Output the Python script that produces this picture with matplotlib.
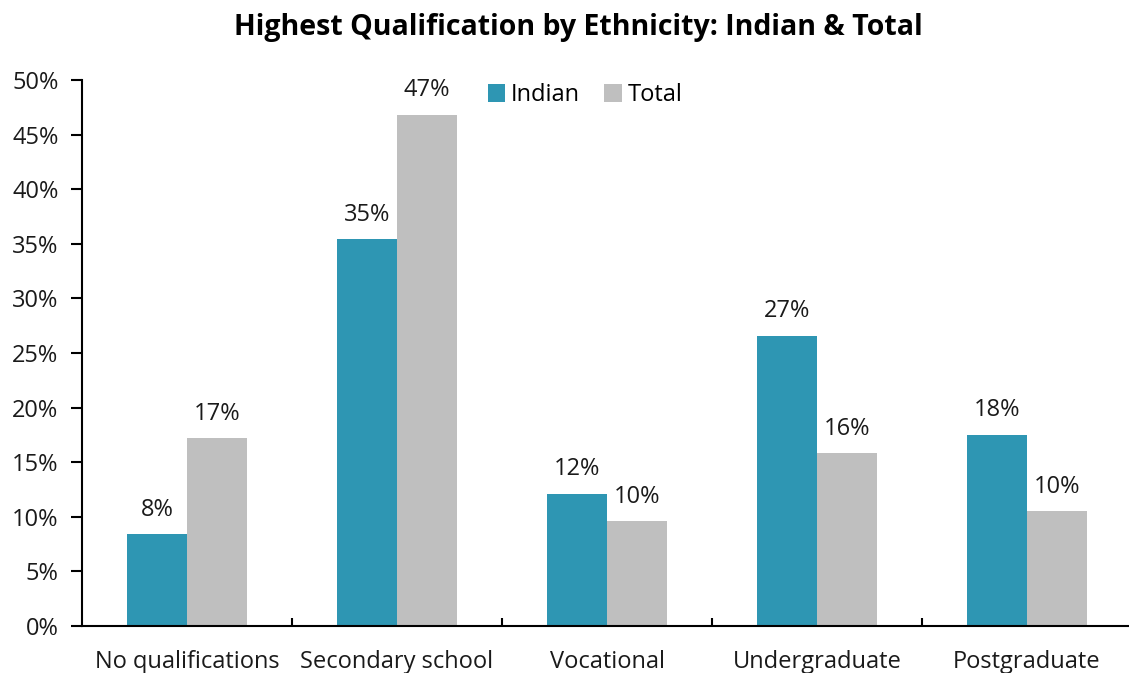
import matplotlib
matplotlib.use("Agg")
import matplotlib.pyplot as plt
import numpy as np
from matplotlib.ticker import FuncFormatter, MultipleLocator

plt.rcParams['font.family'] = ['Open Sans', 'DejaVu Sans']

categories = ["No qualifications", "Secondary school", "Vocational", "Undergraduate", "Postgraduate"]
indian = [8.4, 35.4, 12.1, 26.6, 17.5]
total = [17.2, 46.8, 9.6, 15.8, 10.5]
indian_labels = ["8%", "35%", "12%", "27%", "18%"]
total_labels = ["17%", "47%", "10%", "16%", "10%"]

fig = plt.figure(figsize=(11.29, 6.73), dpi=100)
ax = fig.add_axes([82/1129, 1-626/673, 1050/1129, (626-80)/673])

x = np.arange(len(categories))
w = 0.287
b1 = ax.bar(x - w/2, indian, w, color="#2E96B3", label="Indian")
b2 = ax.bar(x + w/2, total, w, color="#BFBFBF", label="Total")

for bars, labs in ((b1, indian_labels), (b2, total_labels)):
    for bar, lab in zip(bars, labs):
        ax.annotate(lab, (bar.get_x() + bar.get_width()/2, bar.get_height()),
                    xytext=(0, 9), textcoords="offset points", ha="center", va="bottom",
                    fontsize=17, color="#1a1a1a")

ax.set_xlim(-0.5, len(categories) - 0.5)
ax.set_ylim(0, 50)
ax.yaxis.set_major_locator(MultipleLocator(5))
ax.yaxis.set_major_formatter(FuncFormatter(lambda v, p: f"{v:.0f}%"))
ax.set_xticks(x)
ax.set_xticklabels(categories)
ax.set_xticks(np.arange(0.5, len(categories) - 0.5, 1), minor=True)
ax.tick_params(axis="x", which="major", length=0, pad=17.5, labelsize=17, labelcolor="#1a1a1a")
ax.tick_params(axis="x", which="minor", length=6, width=1.5, direction="in")
ax.tick_params(axis="y", length=8, width=1.5, labelsize=17, pad=9, labelcolor="#1a1a1a")

for s in ("top", "right"):
    ax.spines[s].set_visible(False)
for s in ("left", "bottom"):
    ax.spines[s].set_linewidth(1.5)
    ax.spines[s].set_color("black")

ax.legend(loc="upper center", bbox_to_anchor=(0.479, 1.033), ncol=2, frameon=False,
          fontsize=17, handlelength=0.75, handleheight=0.75, handletextpad=0.25, columnspacing=1.0)

fig.text(578.5/1129, 1-28/673, "Highest Qualification by Ethnicity: Indian & Total", ha="center", va="center",
         fontsize=20.5, fontweight="bold", color="black")

fig.savefig("out.png", dpi=100)
